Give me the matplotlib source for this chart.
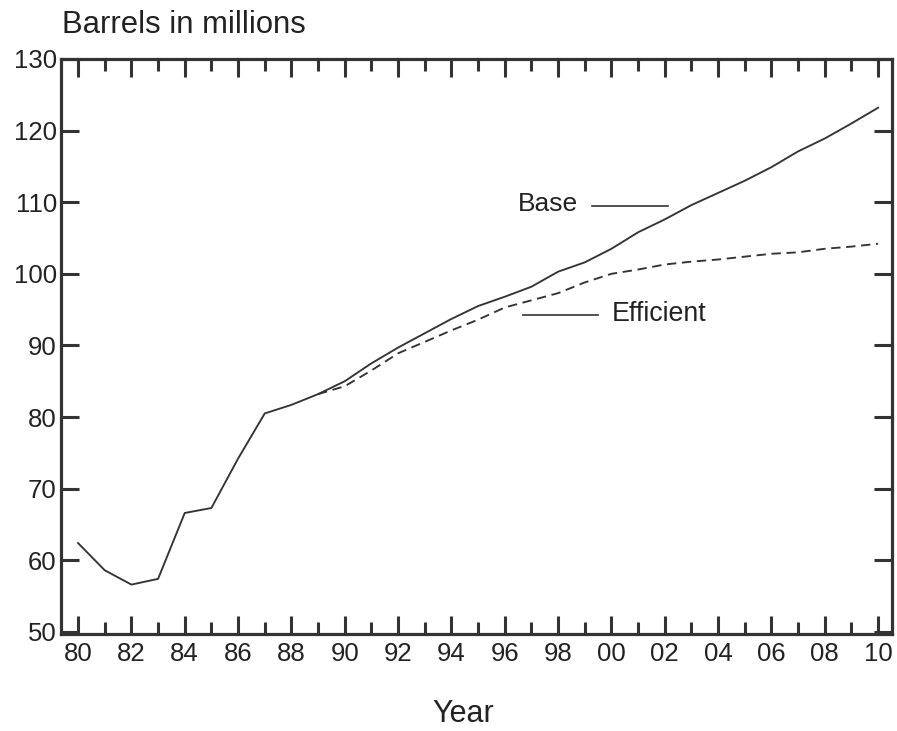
import matplotlib
matplotlib.use("Agg")
import matplotlib.pyplot as plt
from matplotlib.ticker import MultipleLocator, FixedLocator

plt.rcParams['font.family'] = ['Liberation Sans', 'DejaVu Sans']

years = list(range(1980, 2011))
base = [62.4, 58.6, 56.6, 57.4, 66.6, 67.3, 74.2, 80.5, 81.7, 83.2,
        85.0, 87.5, 89.7, 91.7, 93.7, 95.5, 96.8, 98.2, 100.3, 101.6,
        103.5, 105.8, 107.6, 109.6, 111.3, 113.0, 114.9, 117.1, 118.9, 121.0, 123.2]
eff_years = list(range(1989, 2011))
efficient = [83.2, 84.3, 86.5, 88.9, 90.5, 92.1, 93.6, 95.3, 96.3, 97.3, 98.8,
             100.0, 100.6, 101.3, 101.7, 102.0, 102.4, 102.8, 103.0, 103.5, 103.8, 104.2]
xtick_years = list(range(1980, 2011, 2))
xtick_labels = [f"{y % 100:02d}" for y in xtick_years]
yticks = list(range(50, 131, 10))

ink = '#333333'
fig = plt.figure(figsize=(8.97, 7.31), dpi=100)
ax = fig.add_axes([61/897, 1-634/731, (892-61)/897, (634-59)/731])

ax.plot(years, base, color=ink, lw=1.35)
ax.plot(eff_years, efficient, color=ink, lw=1.35, dashes=(5, 3))

ax.set_xlim(1979.36, 2010.52)
ax.set_ylim(49.7, 130)
ax.xaxis.set_major_locator(FixedLocator(xtick_years))
ax.set_xticklabels(xtick_labels)
ax.xaxis.set_minor_locator(MultipleLocator(1))
ax.set_yticks(yticks)

for s in ax.spines.values():
    s.set_linewidth(2.3)
    s.set_color(ink)

ax.tick_params(axis='x', which='major', direction='in', length=13, width=2.2,
               top=True, bottom=True, labelsize=18.5, pad=6, colors=ink, labelcolor='#222222')
ax.tick_params(axis='x', which='minor', direction='in', length=8.5, width=2.2,
               top=True, bottom=True, colors=ink)
ax.tick_params(axis='y', which='major', direction='in', length=13, width=2.2,
               left=True, right=True, labelsize=18.5, pad=3, colors=ink, labelcolor='#222222')

# annotations
ax.text(1998.75, 109.7, 'Base', ha='right', va='center', fontsize=19, color='#222222')
ax.plot([1999.26, 2002.13], [109.5, 109.5], color=ink, lw=1.2)
ax.text(2000.0, 94.4, 'Efficient', ha='left', va='center', fontsize=19.3, color='#222222')
ax.plot([1996.67, 1999.5], [94.3, 94.3], color=ink, lw=1.2)

fig.text(62/897, 1-33/731, 'Barrels in millions', ha='left', va='baseline',
         fontsize=22.3, color='#222222')
fig.text(463/897, 1-722/731, 'Year', ha='center', va='baseline',
         fontsize=22, color='#222222')

fig.savefig('out.png', dpi=100)
